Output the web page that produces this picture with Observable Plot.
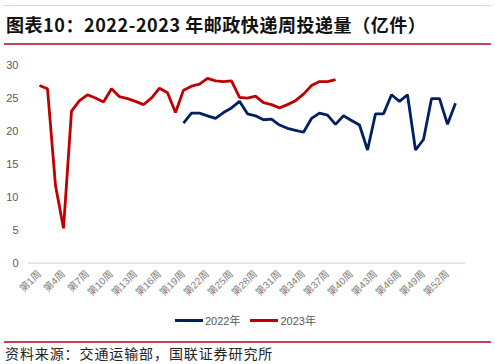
<!DOCTYPE html>
<html>
<head>
<meta charset="utf-8">
<script src="https://cdn.jsdelivr.net/npm/d3@7"></script>
<script src="https://cdn.jsdelivr.net/npm/@observablehq/plot@0.6"></script>
<style>
  html, body { margin: 0; padding: 0; background: #fff; }
  body { width: 495px; height: 364px; position: relative; overflow: hidden;
         font-family: "Liberation Sans", "Noto Sans CJK SC", sans-serif; }
  #topline { position: absolute; left: 4px; width: 487px; top: 5px; height: 1px; background: #ecc9d2; }
  #title { position: absolute; left: 6px; top: 12px; font-family: "Noto Sans CJK SC", sans-serif;
           font-weight: 700; font-size: 18px; line-height: 24px; letter-spacing: 0.55px; color: #111; white-space: nowrap; }
  #titleline { position: absolute; left: 4px; width: 487px; top: 43px; height: 1.5px; background: #c8405a; }
  #chart { position: absolute; left: 0; top: 50px; }
  #legend { position: absolute; top: 312px; left: 175px; display: flex; align-items: center;
            font-size: 11px; color: #595959; font-family: "Liberation Sans", "Noto Sans CJK SC", sans-serif; }
  .sw { display: inline-block; width: 28px; height: 3px; margin-right: 2px; }
  .item { display: flex; align-items: center; margin-right: 10px; }
  #footline { position: absolute; left: 4px; width: 487px; top: 341px; height: 1.5px; background: #c8405a; }
  #foot { position: absolute; left: 5px; top: 344px; font-family: "Noto Sans CJK SC", sans-serif;
          font-size: 14px; line-height: 18px; letter-spacing: 0.9px; color: #222; white-space: nowrap; }
</style>
</head>
<body>
<div id="topline"></div>
<div id="title">图表10：2022-2023 年邮政快递周投递量（亿件）</div>
<div id="titleline"></div>
<div id="chart"></div>
<div id="legend"></div>
<div id="footline"></div>
<div id="foot">资料来源：交通运输部，国联证券研究所</div>
<script>
const weeks = ["第1周","第2周","第3周","第4周","第5周","第6周","第7周","第8周","第9周","第10周",
  "第11周","第12周","第13周","第14周","第15周","第16周","第17周","第18周","第19周","第20周",
  "第21周","第22周","第23周","第24周","第25周","第26周","第27周","第28周","第29周","第30周",
  "第31周","第32周","第33周","第34周","第35周","第36周","第37周","第38周","第39周","第40周",
  "第41周","第42周","第43周","第44周","第45周","第46周","第47周","第48周","第49周","第50周",
  "第51周","第52周","第53周"];
const tickWeeks = ["第1周","第4周","第7周","第10周","第13周","第16周","第19周","第22周","第25周",
  "第28周","第31周","第34周","第37周","第40周","第43周","第46周","第49周","第52周"];
const yTicks = [0, 5, 10, 15, 20, 25, 30];
const seriesNames = ["2022年", "2023年"];
const seriesColors = ["#002060", "#C00000"];

// 2022: weeks 19..53
const start2022 = 19;
const values2022 = [21.3, 22.8, 22.8, 22.4, 22.0, 22.9, 23.6, 24.6, 22.7, 22.4,
  21.8, 21.9, 21.0, 20.5, 20.2, 19.9, 22.0, 22.8, 22.5, 21.1,
  22.4, 21.7, 21.0, 17.2, 22.7, 22.7, 25.6, 24.6, 25.6, 17.2,
  18.8, 25.0, 25.0, 21.1, 24.3];
// 2023: weeks 1..38
const start2023 = 1;
const values2023 = [27.0, 26.5, 11.8, 5.3, 23.1, 24.7, 25.6, 25.1, 24.5, 26.5,
  25.3, 25.0, 24.6, 24.1, 25.1, 26.6, 25.9, 22.9, 26.3, 26.9,
  27.2, 28.1, 27.7, 27.6, 27.7, 25.2, 25.1, 25.4, 24.4, 24.1,
  23.6, 24.1, 24.7, 25.7, 27.0, 27.6, 27.6, 27.9];

const data = [
  ...values2022.map((v, i) => ({week: weeks[start2022 - 1 + i], value: v, series: seriesNames[0]})),
  ...values2023.map((v, i) => ({week: weeks[start2023 - 1 + i], value: v, series: seriesNames[1]}))
];

const chart = Plot.plot({
  width: 495,
  height: 265,
  marginLeft: 28,
  marginRight: 30,
  marginTop: 15.3,
  marginBottom: 52.3,
  style: {fontFamily: "'Liberation Sans', 'Noto Sans CJK SC', sans-serif", color: "#595959", background: "#fff"},
  x: {type: "point", domain: weeks, padding: 0.5, align: 0.5},
  y: {domain: [0, 30]},
  color: {domain: seriesNames, range: seriesColors},
  marks: [
    Plot.ruleY([0], {stroke: "#d9d9d9", strokeWidth: 1.2}),
    Plot.axisY({ticks: yTicks, tickSize: 0, tickPadding: 10, fontSize: 11, label: null, fill: "#595959"}),
    Plot.axisX({ticks: tickWeeks, tickSize: 0, tickPadding: 9, tickRotate: -45, fontSize: 10, label: null, fill: "#808080"}),
    Plot.line(data, {x: "week", y: "value", z: "series", stroke: "series", strokeWidth: 2.8,
      strokeLinejoin: "miter", strokeLinecap: "butt"})
  ]
});
document.getElementById("chart").appendChild(chart);

const legend = document.getElementById("legend");
seriesNames.forEach((name, i) => {
  const item = document.createElement("div");
  item.className = "item";
  const sw = document.createElement("span");
  sw.className = "sw";
  sw.style.background = seriesColors[i];
  const label = document.createElement("span");
  label.textContent = name;
  item.appendChild(sw);
  item.appendChild(label);
  legend.appendChild(item);
});
</script>
</body>
</html>
